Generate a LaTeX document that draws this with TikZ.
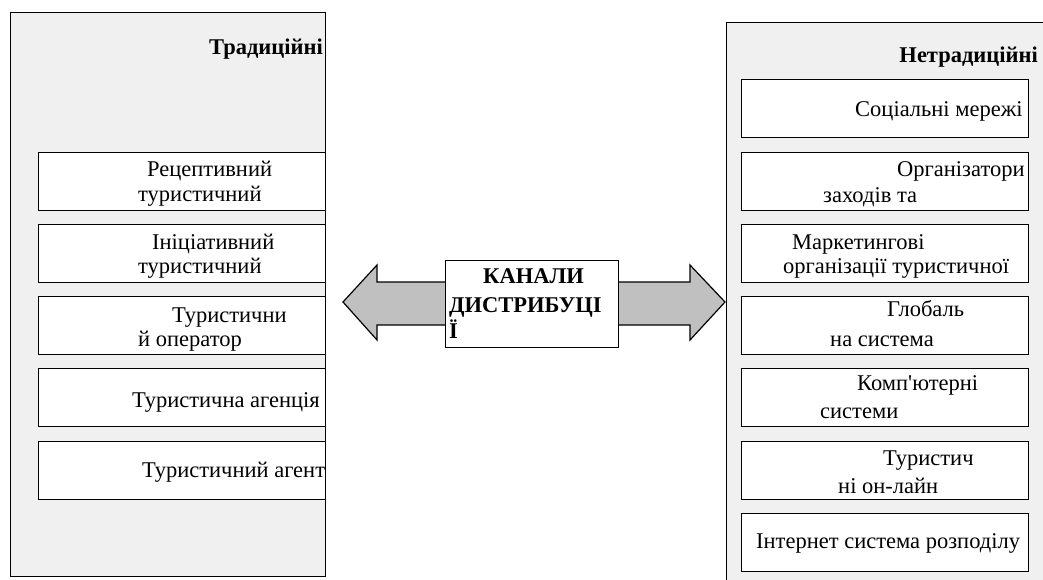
\documentclass[tikz,border=0pt]{standalone}
\usepackage{fontspec}
\setmainfont{Liberation Serif}
\newfontfamily\plainserif{Liberation Serif}
\begin{document}
\begin{tikzpicture}[x=1pt,y=-1pt,
  panel/.style={draw=black, line width=1.2pt, fill=panelgray},
  itembox/.style={draw=black, line width=1.2pt, fill=white, anchor=north west, minimum width=287pt, minimum height=58pt, inner sep=0pt},
  txt/.style={anchor=base west, inner sep=0pt, font=\plainserif\fontsize{22.5}{26}\selectfont},
  head/.style={anchor=base east, inner sep=0pt, font=\plainserif\fontsize{22.5}{26}\selectfont\bfseries},
  bigarrow/.style={draw=black, line width=1.2pt, fill=arrowgray}]
\definecolor{panelgray}{HTML}{F0F0F0}
\definecolor{arrowgray}{HTML}{C0C0C0}
\useasboundingbox (0,0) rectangle (1043,580);
\fill[white] (0,0) rectangle (1043,580);
% left panel
\node[panel, anchor=north west, minimum width=315pt, minimum height=564pt, inner sep=0pt] (lp) at (10,12) {};
\node[head] (lh) at (323,55) {Традиційні};
\node[itembox] (l1) at (38,152) {};
\node[itembox] (l2) at (38,224) {};
\node[itembox] (l3) at (38,296) {};
\node[itembox] (l4) at (38,368) {};
\node[itembox] (l5) at (38,441) {};
\node[txt] (l1a) at (147,177) {Рецептивний};
\node[txt] (l1b) at (138,201) {туристичний};
\node[txt] (l2a) at (152,249) {Ініціативний};
\node[txt] (l2b) at (138,273) {туристичний};
\node[txt] (l3a) at (172,322) {Туристични};
\node[txt] (l3b) at (138,346) {й оператор};
\node[txt] (l4a) at (132,407) {Туристична агенція};
\node[txt] (l5a) at (142,477) {Туристичний агент};
% right panel (cut by the picture edge)
\begin{scope}
\clip (0,0) rectangle (1043,580);
\node[panel, anchor=north west, minimum width=330pt, minimum height=580pt, inner sep=0pt] (rp) at (726,22) {};
\end{scope}
\node[head] (rh) at (1038,63) {Нетрадиційні};
\node[itembox] (r1) at (741,79) {};
\node[itembox] (r2) at (741,152) {};
\node[itembox] (r3) at (741,224) {};
\node[itembox] (r4) at (741,296) {};
\node[itembox] (r5) at (741,368) {};
\node[itembox] (r6) at (741,441) {};
\node[itembox] (r7) at (741,513) {};
\node[txt] (r1a) at (855,117) {Соціальні мережі};
\node[txt] (r2a) at (897,177) {Організатори};
\node[txt] (r2b) at (823,202) {заходів та};
\node[txt] (r3a) at (792,249) {Маркетингові};
\node[txt] (r3b) at (783,273) {організації туристичної};
\node[txt] (r4a) at (887,316) {Глобаль};
\node[txt] (r4b) at (830,346) {на система};
\node[txt] (r5a) at (857,390) {Комп'ютерні};
\node[txt] (r5b) at (820,418) {системи};
\node[txt] (r6a) at (883,465) {Туристич};
\node[txt] (r6b) at (838,493) {ні он-лайн};
\node[txt] (r7a) at (756,548) {Інтернет система розподілу};
% arrows
\draw[bigarrow] (445,282) -- (377,282) -- (377,265) -- (343,302) -- (377,340) -- (377,325) -- (445,325);
\draw[bigarrow] (618,282) -- (690,282) -- (690,265) -- (725,302) -- (690,340) -- (690,325) -- (618,325);
% center box
\node[draw=black, line width=1.2pt, fill=white, anchor=north west, minimum width=173pt, minimum height=87pt, inner sep=0pt] (c) at (445,260) {};
\node[head, anchor=base west] (ca) at (483,283) {КАНАЛИ};
\node[head, anchor=base west] (cb) at (449,312) {ДИСТРИБУЦІ};
\node[head, anchor=base west] (cc) at (449,338) {Ї};
\end{tikzpicture}
\end{document}
